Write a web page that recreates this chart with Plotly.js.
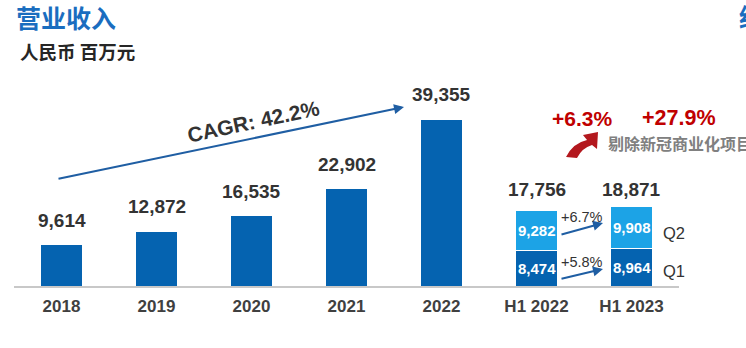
<!DOCTYPE html>
<html><head><meta charset="utf-8">
<script src="https://cdn.plot.ly/plotly-3.0.1.min.js"></script>
<style>html,body{margin:0;padding:0;background:#fff;overflow:hidden}#chart{width:746px;height:348px}</style>
</head><body><div id="chart"></div>
<script>
const categories = ['2018','2019','2020','2021','2022','H1 2022','H1 2023'];
const annualCats = ['2018','2019','2020','2021','2022'];
const annualValues = [9614, 12872, 16535, 22902, 39355];
const halfCats = ['H1 2022','H1 2023'];
const q1Values = [8474, 8964];
const q2Values = [9282, 9908];
const halfTotals = [17756, 18871];
const q1Growth = '+5.8%';
const q2Growth = '+6.7%';
const cagrText = 'CAGR: 42.2%';
const exclGrowth = ['+6.3%', '+27.9%'];

const DARK = '#0563B0', LIGHT = '#1CA3E6', TXT = '#333333', ARW = '#1F5EA3';
const F = 'Liberation Sans, Arial, sans-serif';
const CJK = 'Noto Sans CJK SC, sans-serif';
const fmt = v => v.toLocaleString('en-US');
const idx = c => categories.indexOf(c);

const M = {l: 14, t: 83, w: 665, h: 203};
const px = X => (X - M.l) / M.w;
const py = Y => (M.t + M.h - Y) / M.h;

const traces = [
  {type: 'bar', x: annualCats, y: annualValues, marker: {color: DARK}, width: 0.44, hoverinfo: 'none'},
  {type: 'bar', x: halfCats, y: q1Values, marker: {color: DARK, line: {color: '#fff', width: 1}}, width: 0.44, hoverinfo: 'none'},
  {type: 'bar', x: halfCats, y: q2Values, marker: {color: LIGHT, line: {color: '#fff', width: 1}}, width: 0.44, hoverinfo: 'none'}
];

const ann = [];
const T = (o) => ann.push(Object.assign({showarrow: false, xanchor: 'center', yanchor: 'middle'}, o));
const PT = (X, Y, o) => T(Object.assign({xref: 'paper', yref: 'paper', x: px(X), y: py(Y)}, o));

annualCats.forEach((c, i) => T({x: idx(c), y: annualValues[i], yshift: 25, text: fmt(annualValues[i]), font: {family: F, size: 19, weight: 'bold', color: TXT}}));
halfCats.forEach((c, i) => T({x: idx(c), y: Math.max(...halfTotals), yshift: 17, text: fmt(halfTotals[i]), font: {family: F, size: 19, weight: 'bold', color: TXT}}));
halfCats.forEach((c, i) => {
  T({x: idx(c), y: q1Values[i] / 2, text: fmt(q1Values[i]), font: {family: F, size: 15, weight: 'bold', color: '#fff'}});
  T({x: idx(c), y: q1Values[i] + q2Values[i] / 2, text: fmt(q2Values[i]), font: {family: F, size: 15, weight: 'bold', color: '#fff'}});
});
// Q labels
PT(674, 233, {text: 'Q2', font: {family: F, size: 16.5, color: TXT}});
PT(674, 271, {text: 'Q1', font: {family: F, size: 16.5, color: TXT}});
// small growth arrows
ann.push({xref: 'paper', yref: 'paper', x: px(603), y: py(223), ax: -43, ay: 12, showarrow: true, arrowhead: 2, arrowsize: 1, arrowwidth: 2, arrowcolor: ARW, text: ''});
ann.push({xref: 'paper', yref: 'paper', x: px(603), y: py(269), ax: -43, ay: 10, showarrow: true, arrowhead: 2, arrowsize: 1, arrowwidth: 2, arrowcolor: ARW, text: ''});
PT(582, 217, {text: q2Growth, font: {family: F, size: 14.5, color: TXT}});
PT(582, 262, {text: q1Growth, font: {family: F, size: 14.5, color: TXT}});
// CAGR arrow
ann.push({xref: 'paper', yref: 'paper', x: px(404), y: py(107), ax: -347, ay: 72, showarrow: true, arrowhead: 2, arrowsize: 1, arrowwidth: 2, arrowcolor: ARW, text: ''});
PT(253, 121, {text: cagrText, textangle: -12, font: {family: F, size: 21, weight: 'bold', color: TXT}});
// red growth
PT(581.5, 118, {text: exclGrowth[0], font: {family: F, size: 21, weight: 'bold', color: '#C00000'}});
PT(678.5, 118, {text: exclGrowth[1], font: {family: F, size: 21.5, weight: 'bold', color: '#C00000'}});
PT(606, 143, {xanchor: 'left', text: '剔除新冠商业化项目', font: {family: CJK, size: 16, weight: 'bold', color: '#808080'}});
// titles
PT(14, 17, {xanchor: 'left', text: '营业收入', font: {family: CJK, size: 25, weight: 'bold', color: '#1A6DBF'}});
PT(18, 51, {xanchor: 'left', text: '人民币 百万元', font: {family: CJK, size: 18.5, weight: 'bold', color: '#262626'}});
PT(737, 16, {xanchor: 'left', text: '经', font: {family: CJK, size: 25, weight: 'bold', color: '#1A6DBF'}});

const P = (X, Y) => px(X).toFixed(4) + ',' + py(Y).toFixed(4);
const redPath = 'M' + P(566, 157) + ' Q' + P(573, 143) + ' ' + P(587, 140) + ' L' + P(583, 135) + ' L' + P(598, 132) + ' L' + P(597, 149) + ' L' + P(592, 145) + ' Q' + P(582, 148) + ' ' + P(577, 158) + ' Z';

const layout = {
  width: 746, height: 348,
  margin: {l: M.l, r: 746 - M.l - M.w, t: M.t, b: 348 - M.t - M.h, pad: 0},
  paper_bgcolor: '#fff', plot_bgcolor: '#fff',
  barmode: 'stack', showlegend: false,
  xaxis: {type: 'category', categoryorder: 'array', categoryarray: categories, range: [-0.5, 6.5],
    showline: true, linecolor: '#C8C8C8', linewidth: 1.5, ticks: '', showgrid: false, zeroline: false,
    tickfont: {family: F, size: 17, weight: 'bold', color: '#404040'}, ticklabelstandoff: 4, fixedrange: true},
  yaxis: {range: [0, 48000], visible: false, fixedrange: true},
  annotations: ann,
  shapes: [{type: 'path', xref: 'paper', yref: 'paper', path: redPath, fillcolor: '#B3181E', line: {width: 0}}]
};
Plotly.newPlot('chart', traces, layout, {staticPlot: true, displayModeBar: false});
</script></body></html>
